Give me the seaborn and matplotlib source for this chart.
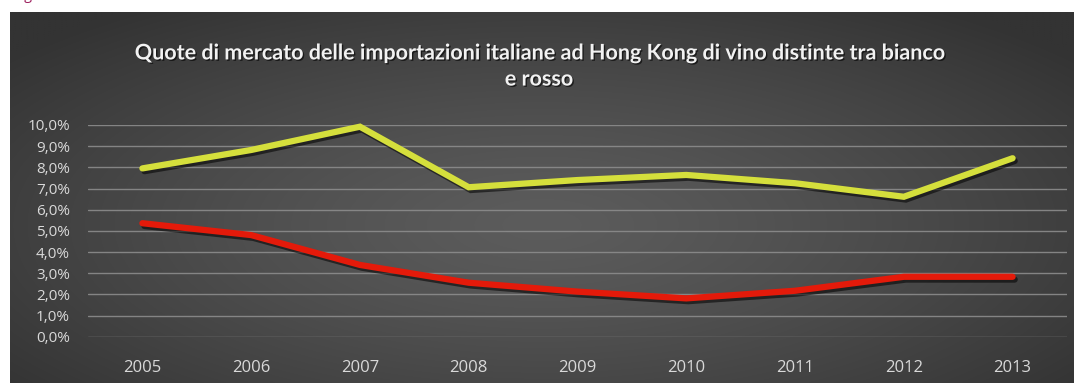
import numpy as np
import pandas as pd
import matplotlib
matplotlib.use("Agg")
import matplotlib.pyplot as plt
import matplotlib.patheffects as pe
import seaborn as sns

# ---- data ----
years = ["2005", "2006", "2007", "2008", "2009", "2010", "2011", "2012", "2013"]
bianco = [7.95, 8.82, 9.92, 7.06, 7.40, 7.64, 7.25, 6.61, 8.43]
rosso = [5.36, 4.80, 3.39, 2.55, 2.13, 1.81, 2.17, 2.83, 2.83]
yticks = [0, 1, 2, 3, 4, 5, 6, 7, 8, 9, 10]
ytick_labels = ["0,0%", "1,0%", "2,0%", "3,0%", "4,0%", "5,0%", "6,0%", "7,0%", "8,0%", "9,0%", "10,0%"]
title = "Quote di mercato delle importazioni italiane ad Hong Kong di vino distinte tra bianco\ne rosso"

df = pd.DataFrame({
    "Anno": years * 2,
    "Quota": bianco + rosso,
    "Tipo": ["Bianco"] * len(years) + ["Rosso"] * len(years),
})

sns.set_theme(style="white")
plt.rcParams["font.family"] = ["Open Sans", "DejaVu Sans"]

W, H = 1081, 383
fig = plt.figure(figsize=(W / 100, H / 100), dpi=100)
fig.patch.set_facecolor("white")

# background panel with radial gradient
bx0, bx1, by0, by1 = 10, 1074, 12, 383
bg = fig.add_axes([bx0 / W, 0, (bx1 - bx0) / W, (by1 - by0) / H])
bg.set_axis_off()
gx = np.linspace(-1, 1, 400)
gy = np.linspace(-1, 1, 200)
GX, GY = np.meshgrid(gx, gy)
R = np.sqrt((GX * 1.0) ** 2 + ((GY - 0.15) * 0.9) ** 2)
R = np.clip(R, 0, 1.3) / 1.3
lo, hi = 0x33 / 255, 0x5c / 255
val = hi - (hi - lo) * R ** 1.3
img = np.dstack([val, val, val])
bg.imshow(img, aspect="auto", extent=[0, 1, 0, 1], interpolation="bilinear")
bg.set_xlim(0, 1)
bg.set_ylim(0, 1)

# main axes
ax_left, ax_right = 88, 1067
ax_top, ax_bot = 125, 336.7
ax = fig.add_axes([ax_left / W, (H - ax_bot) / H, (ax_right - ax_left) / W, (ax_bot - ax_top) / H])
ax.set_facecolor("none")

palette = {"Bianco": "#d5df3c", "Rosso": "#e41a0a"}
sns.lineplot(data=df, x="Anno", y="Quota", hue="Tipo", palette=palette,
             linewidth=4.5, legend=False, ax=ax, sort=False)
for ln in ax.get_lines():
    ln.set_clip_on(False)
    ln.set_solid_capstyle("round")
    ln.set_solid_joinstyle("miter")
    ln.set_zorder(5)
    ln.set_path_effects([pe.SimpleLineShadow(offset=(1.5, -2), shadow_color="black", alpha=0.55),
                         pe.Normal()])

ax.set_xlim(-0.5, 8.5)
ax.set_ylim(0, 10)
ax.set_yticks(yticks)
ax.set_yticklabels(ytick_labels)
ax.grid(axis="y", color="#8c8c8c", linewidth=1.0, alpha=0.9)
ax.grid(axis="x", visible=False)
for s in ax.spines.values():
    s.set_visible(False)
ax.tick_params(axis="y", length=0, pad=13, labelsize=11, labelcolor="#d9d9d9")
ax.tick_params(axis="x", length=0, pad=17, labelsize=12, labelcolor="#d9d9d9")
ax.set_xlabel("")
ax.set_ylabel("")

fig.text(539 / W, 1 - 66 / H, title, ha="center", va="center", fontsize=15.5,
         fontweight="bold", family=["Lato", "DejaVu Sans"], color="#f2f2f2", linespacing=1.3,
         path_effects=[pe.withSimplePatchShadow(offset=(1, -1), shadow_rgbFace="black", alpha=0.6)])

# partially visible caption at the very top
fig.text(14 / W, 1.0 + 1 / H, "Figura", ha="left", va="baseline", fontsize=11,
         style="italic", color="#9b1b5a")

fig.savefig("out.png", dpi=100, facecolor="white")
